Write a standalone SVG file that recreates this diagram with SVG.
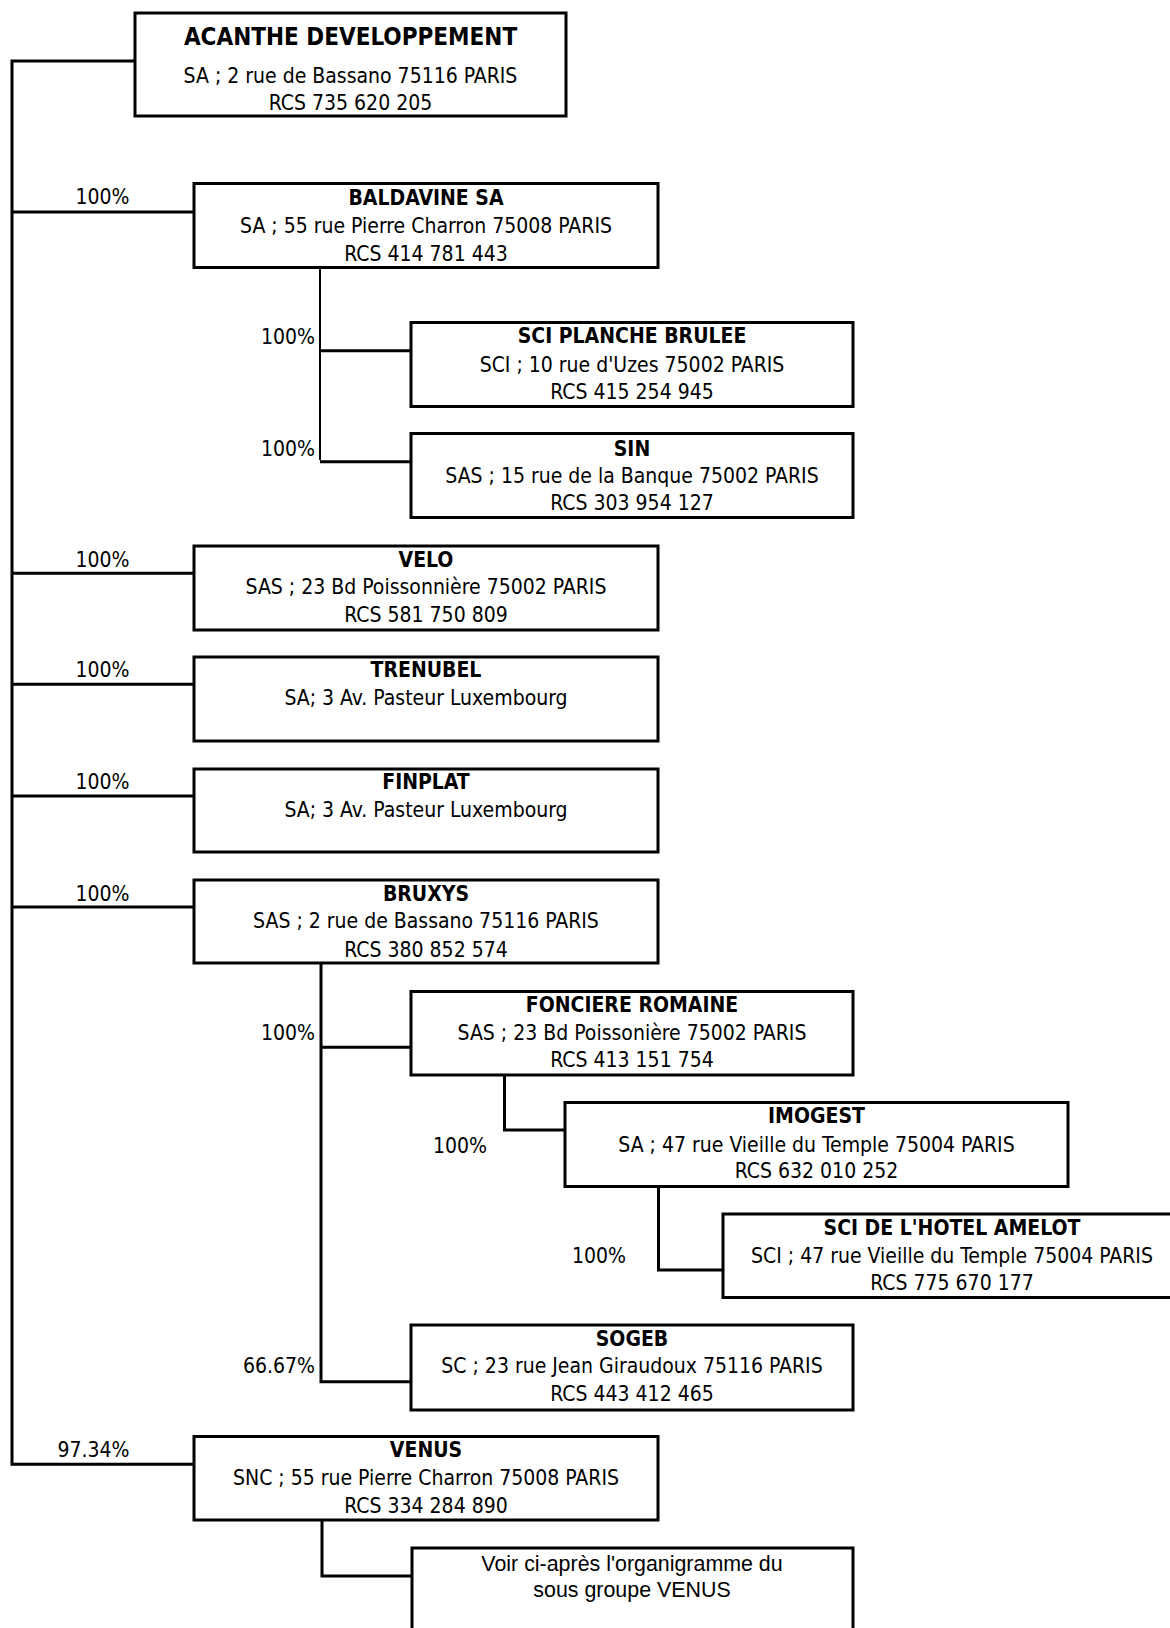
<svg xmlns="http://www.w3.org/2000/svg" width="1170" height="1628" viewBox="0 0 1170 1628">
<style>
.bg{fill:#fff}
.box{fill:#fff;stroke:#000;stroke-width:3}
.c{fill:none;stroke:#000;stroke-width:3}
.thin{stroke-width:2}
text{font-family:"DejaVu Sans Condensed","DejaVu Sans",sans-serif;font-stretch:condensed;font-size:21px;fill:#000;text-anchor:middle}
.b{font-weight:bold}
.big{font-size:24px}
.p{text-anchor:end}
.arial{font-family:"Liberation Sans",Arial,sans-serif;font-stretch:normal;font-size:21.4px}
</style>
<rect class="bg" x="0" y="0" width="1170" height="1628"/>
<g id="connectors">
<path class="c" d="M135 61H12V1464.3H194"/>
<path class="c" d="M12 212H194M12 573.3H194M12 684.3H194M12 796H194M12 907H194"/>
<path class="c thin" d="M320 267.5V460"/>
<path class="c" d="M320 350.7H411M320 461.7H411"/>
<path class="c" d="M321 963V1381.7H411M321 1047.3H411"/>
<path class="c" d="M504.5 1075V1130H565"/>
<path class="c" d="M658.5 1186.5V1270H723"/>
<path class="c" d="M322 1520V1576H412"/>
</g>
<g id="labels">
<text class="p" x="129.5" y="204">100%</text>
<text class="p" x="315" y="344.3">100%</text>
<text class="p" x="315" y="455.7">100%</text>
<text class="p" x="129.5" y="566.7">100%</text>
<text class="p" x="129.5" y="676.7">100%</text>
<text class="p" x="129.5" y="789.3">100%</text>
<text class="p" x="129.5" y="900.7">100%</text>
<text class="p" x="315" y="1040">100%</text>
<text class="p" x="487" y="1152.7">100%</text>
<text class="p" x="626" y="1263.3">100%</text>
<text class="p" x="315" y="1373.3">66.67%</text>
<text class="p" x="129.5" y="1457.3">97.34%</text>
</g>
<g id="acanthe">
<rect class="box" x="135" y="13" width="431" height="103"/>
<text class="b big" x="350.5" y="45">ACANTHE DEVELOPPEMENT</text>
<text x="350.5" y="83.3">SA ; 2 rue de Bassano 75116 PARIS</text>
<text x="350.5" y="110">RCS 735 620 205</text>
</g>
<g id="baldavine">
<rect class="box" x="194" y="183.5" width="464" height="84"/>
<text class="b" x="426" y="205">BALDAVINE SA</text>
<text x="426" y="233.3">SA ; 55 rue Pierre Charron 75008 PARIS</text>
<text x="426" y="260.7">RCS 414 781 443</text>
</g>
<g id="sci-planche-brulee">
<rect class="box" x="411" y="322.5" width="442" height="84"/>
<text class="b" x="632" y="343.3">SCI PLANCHE BRULEE</text>
<text x="632" y="371.7">SCI ; 10 rue d'Uzes 75002 PARIS</text>
<text x="632" y="399">RCS 415 254 945</text>
</g>
<g id="sin">
<rect class="box" x="411" y="433.5" width="442" height="84"/>
<text class="b" x="632" y="455.7">SIN</text>
<text x="632" y="483.3">SAS ; 15 rue de la Banque 75002 PARIS</text>
<text x="632" y="510">RCS 303 954 127</text>
</g>
<g id="velo">
<rect class="box" x="194" y="546" width="464" height="84"/>
<text class="b" x="426" y="566.7">VELO</text>
<text x="426" y="594">SAS ; 23 Bd Poissonnière 75002 PARIS</text>
<text x="426" y="621.7">RCS 581 750 809</text>
</g>
<g id="trenubel">
<rect class="box" x="194" y="657" width="464" height="84"/>
<text class="b" x="426" y="676.7">TRENUBEL</text>
<text x="426" y="705">SA; 3 Av. Pasteur Luxembourg</text>
</g>
<g id="finplat">
<rect class="box" x="194" y="769" width="464" height="83"/>
<text class="b" x="426" y="789.3">FINPLAT</text>
<text x="426" y="816.7">SA; 3 Av. Pasteur Luxembourg</text>
</g>
<g id="bruxys">
<rect class="box" x="194" y="880" width="464" height="83"/>
<text class="b" x="426" y="900.7">BRUXYS</text>
<text x="426" y="928.3">SAS ; 2 rue de Bassano 75116 PARIS</text>
<text x="426" y="956.7">RCS 380 852 574</text>
</g>
<g id="fonciere-romaine">
<rect class="box" x="411" y="991.5" width="442" height="83.5"/>
<text class="b" x="632" y="1011.7">FONCIERE ROMAINE</text>
<text x="632" y="1040">SAS ; 23 Bd Poissonière 75002 PARIS</text>
<text x="632" y="1067.3">RCS 413 151 754</text>
</g>
<g id="imogest">
<rect class="box" x="565" y="1102.5" width="503" height="84"/>
<text class="b" x="816.5" y="1123">IMOGEST</text>
<text x="816.5" y="1151.7">SA ; 47 rue Vieille du Temple 75004 PARIS</text>
<text x="816.5" y="1178">RCS 632 010 252</text>
</g>
<g id="sci-hotel-amelot">
<rect class="box" x="723" y="1214" width="500" height="83.5"/>
<text class="b" x="952" y="1235">SCI DE L'HOTEL AMELOT</text>
<text x="952" y="1263.3">SCI ; 47 rue Vieille du Temple 75004 PARIS</text>
<text x="952" y="1290">RCS 775 670 177</text>
</g>
<g id="sogeb">
<rect class="box" x="411" y="1325" width="442" height="85"/>
<text class="b" x="632" y="1345.7">SOGEB</text>
<text x="632" y="1373.3">SC ; 23 rue Jean Giraudoux 75116 PARIS</text>
<text x="632" y="1401">RCS 443 412 465</text>
</g>
<g id="venus">
<rect class="box" x="194" y="1436.5" width="464" height="83.5"/>
<text class="b" x="426" y="1457.3">VENUS</text>
<text x="426" y="1485">SNC ; 55 rue Pierre Charron 75008 PARIS</text>
<text x="426" y="1512.7">RCS 334 284 890</text>
</g>
<g id="voir-venus">
<rect class="box" x="412" y="1548" width="441" height="100"/>
<text class="arial" x="632" y="1571">Voir ci-après l'organigramme du</text>
<text class="arial" x="632" y="1596.7">sous groupe VENUS</text>
</g>
</svg>
